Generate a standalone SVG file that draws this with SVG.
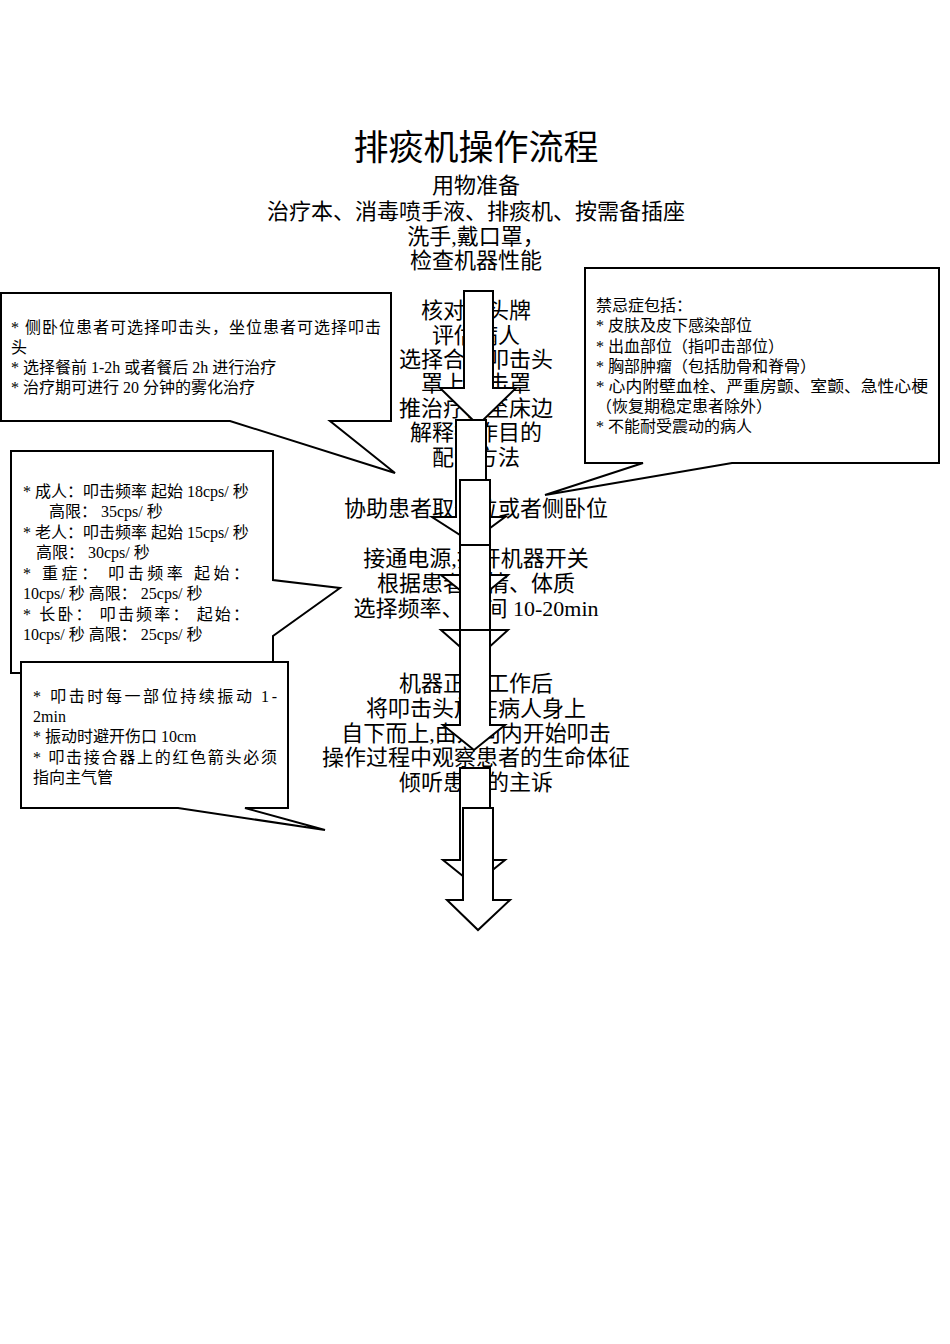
<svg xmlns="http://www.w3.org/2000/svg" width="950" height="1344" viewBox="0 0 950 1344">
<style>
.t{font-family:"Liberation Serif","Noto Sans CJK SC",serif;fill:#000}
.m{font-size:22px;text-anchor:middle}
.s{font-size:16px}
.b{fill:#fff;stroke:#000;stroke-width:2}
</style>
<rect width="950" height="1344" fill="#fff"/>
<g id="main-text">
<text class="t" x="476" y="160" font-size="35" text-anchor="middle">排痰机操作流程</text>
<g class="t m">
<text x="476" y="193">用物准备</text>
<text x="476" y="219">治疗本、消毒喷手液、排痰机、按需备插座</text>
<text x="476" y="244">洗手,戴口罩，</text>
<text x="476" y="268">检查机器性能</text>
<text x="476" y="318">核对床头牌</text>
<text x="476" y="343">评估病人</text>
<text x="476" y="367">选择合适叩击头</text>
<text x="476" y="391">罩上叩击罩</text>
<text x="476" y="416">推治疗仪至床边</text>
<text x="476" y="440">解释操作目的</text>
<text x="476" y="465">配合方法</text>
<text x="476" y="516">协助患者取坐位或者侧卧位</text>
<text x="476" y="566">接通电源,打开机器开关</text>
<text x="476" y="591">根据患者病情、体质</text>
<text x="476" y="616">选择频率、时间 10-20min</text>
<text x="476" y="691">机器正常工作后</text>
<text x="476" y="716">将叩击头放在病人身上</text>
<text x="476" y="741">自下而上,由外向内开始叩击</text>
<text x="476" y="765">操作过程中观察患者的生命体征</text>
<text x="476" y="790">倾听患者的主诉</text>
</g>
</g>
<g id="connectors">
<polygon class="b" points="464,291 493,291 493,388 516,388 478,425 440,388 464,388"/>
<polygon class="b" points="456,420 486,420 486,517 505,517 471,542 432,517 456,517"/>
<polygon class="b" points="460,480 490,480 490,575 508,575 475,602 441,575 460,575"/>
<polygon class="b" points="460,545 490,545 490,630 508,630 475,660 441,630 460,630"/>
<polygon class="b" points="460,630 490,630 490,725 505,725 474,750 443,725 460,725"/>
<polygon class="b" points="460,768 490,768 490,860 505,860 474,885 443,860 460,860"/>
<polygon class="b" points="463,808 493,808 493,900 510,900 478,930 447,900 463,900"/>
</g>
<g id="callout-left1">
<polygon class="b" points="1,293 391,293 391,421 330,421 395,473 230,421 1,421"/>
<text class="t s" x="11" y="333" textLength="370" lengthAdjust="spacing">* 侧卧位患者可选择叩击头，坐位患者可选择叩击</text>
<text class="t s" x="11" y="353">头</text>
<text class="t s" x="11" y="373">* 选择餐前 1-2h 或者餐后 2h 进行治疗</text>
<text class="t s" x="11" y="393">* 治疗期可进行 20 分钟的雾化治疗</text>
</g>
<g id="callout-right">
<polygon class="b" points="585,268 939,268 939,463 732,463 545,495 643,463 585,463"/>
<text class="t s" x="596" y="311">禁忌症包括：</text>
<text class="t s" x="596" y="331">* 皮肤及皮下感染部位</text>
<text class="t s" x="596" y="352">* 出血部位（指叩击部位）</text>
<text class="t s" x="596" y="372">* 胸部肿瘤（包括肋骨和脊骨）</text>
<text class="t s" x="596" y="392" textLength="332" lengthAdjust="spacingAndGlyphs">* 心内附壁血栓、严重房颤、室颤、急性心梗</text>
<text class="t s" x="596" y="412">（恢复期稳定患者除外）</text>
<text class="t s" x="596" y="432">* 不能耐受震动的病人</text>
</g>
<g id="callout-left2">
<polygon class="b" points="11,451 273,451 273,580 340,588 273,636 273,673 11,673"/>
<text class="t s" x="23" y="497">* 成人：叩击频率  起始 18cps/ 秒</text>
<text class="t s" x="49" y="517">高限： 35cps/ 秒</text>
<text class="t s" x="23" y="538">* 老人：叩击频率  起始 15cps/ 秒</text>
<text class="t s" x="36" y="558">高限： 30cps/ 秒</text>
<text class="t s" x="23" y="579" textLength="226" lengthAdjust="spacing">* 重症： 叩击频率  起始：</text>
<text class="t s" x="23" y="599">10cps/ 秒  高限： 25cps/ 秒</text>
<text class="t s" x="23" y="620" textLength="226" lengthAdjust="spacing">* 长卧： 叩击频率： 起始：</text>
<text class="t s" x="23" y="640">10cps/ 秒  高限： 25cps/ 秒</text>
</g>
<g id="callout-left3">
<polygon class="b" points="21,662 288,662 288,808 245,808 325,830 178,808 21,808"/>
<text class="t s" x="33" y="702" textLength="244" lengthAdjust="spacing">* 叩击时每一部位持续振动 1-</text>
<text class="t s" x="33" y="722">2min</text>
<text class="t s" x="33" y="742">* 振动时避开伤口 10cm</text>
<text class="t s" x="33" y="763" textLength="244" lengthAdjust="spacing">* 叩击接合器上的红色箭头必须</text>
<text class="t s" x="33" y="783">指向主气管</text>
</g>
</svg>
